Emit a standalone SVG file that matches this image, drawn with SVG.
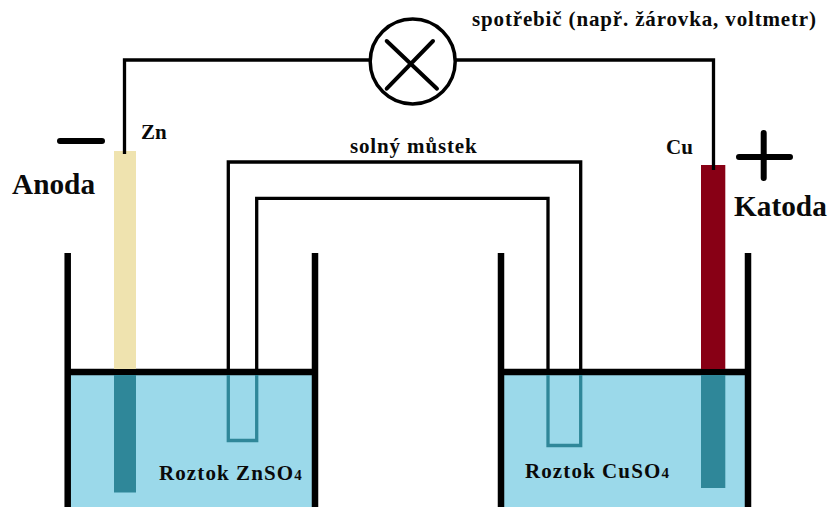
<svg xmlns="http://www.w3.org/2000/svg" width="830" height="507" viewBox="0 0 830 507">
<style>
.w{fill:none;stroke:#000;stroke-width:3.300}
.wall{fill:none;stroke:#000;stroke-width:6.500}
.sub{fill:none;stroke:#2f8799;stroke-width:3.300}
.sign{fill:none;stroke:#000;stroke-width:6;stroke-linecap:round}
text{font-family:"Liberation Serif","Times New Roman",serif;font-weight:bold;fill:#0a0a0a}
.big{font-size:29.300px}
.mid{font-size:21px}
.sp{letter-spacing:.85px}
.sp2{letter-spacing:1.100px}
</style>
<rect width="830" height="507" fill="#fff"/>
<g id="beaker-left">
<rect x="70" y="375" width="242" height="132" fill="#9bd9ea"/>
<path class="wall" d="M67.700 253V507M315 253V507M67 372H315"/>
</g>
<g id="beaker-right">
<rect x="504" y="375" width="241" height="132" fill="#9bd9ea"/>
<path class="wall" d="M501 253V507M748 253V507M501 372H748"/>
</g>
<g id="electrode-zn">
<rect x="114" y="151" width="22" height="218" fill="#efe3af"/>
<rect x="114" y="375" width="22" height="117.500" fill="#2f8799"/>
<text x="141" y="139" class="mid">Zn</text>
</g>
<g id="electrode-cu">
<rect x="701" y="165" width="24.300" height="204" fill="#880015"/>
<rect x="701" y="375" width="24.300" height="113" fill="#2f8799"/>
<text x="666" y="154" class="mid">Cu</text>
</g>
<g id="bridge">
<path class="w" d="M228.300 369V162H580.700V369M256.700 369V198.300H548V369"/>
<path class="sub" d="M228.300 375V440.500H256.700V375M548 375V445.500H580.700V375"/>
<text x="350" y="153" class="mid sp">solný můstek</text>
</g>
<g id="consumer">
<circle cx="412.700" cy="61.500" r="42.500" fill="#fff" stroke="#000" stroke-width="3.500"/>
<path fill="none" stroke="#000" stroke-width="4" stroke-linecap="round" d="M386.700 41L437 88.700M433 41L386.700 88.700"/>
<text x="472" y="26" class="mid sp">spotřebič (např. žárovka, voltmetr)</text>
</g>
<g id="connectors">
<path class="w" d="M124.500 154V60H370M456 60H713.500V170"/>
</g>
<g id="anode-label">
<path class="sign" d="M60 141H102"/>
<text x="12" y="194" class="big">Anoda</text>
</g>
<g id="cathode-label">
<path class="sign" d="M739 157H790M763.700 133V178"/>
<text x="734" y="216" class="big">Katoda</text>
</g>
<g id="solutions">
<text x="159" y="480" class="mid sp2">Roztok ZnSO<tspan font-size="15">4</tspan></text>
<text x="525" y="478" class="mid sp2">Roztok CuSO<tspan font-size="15">4</tspan></text>
</g>
</svg>
